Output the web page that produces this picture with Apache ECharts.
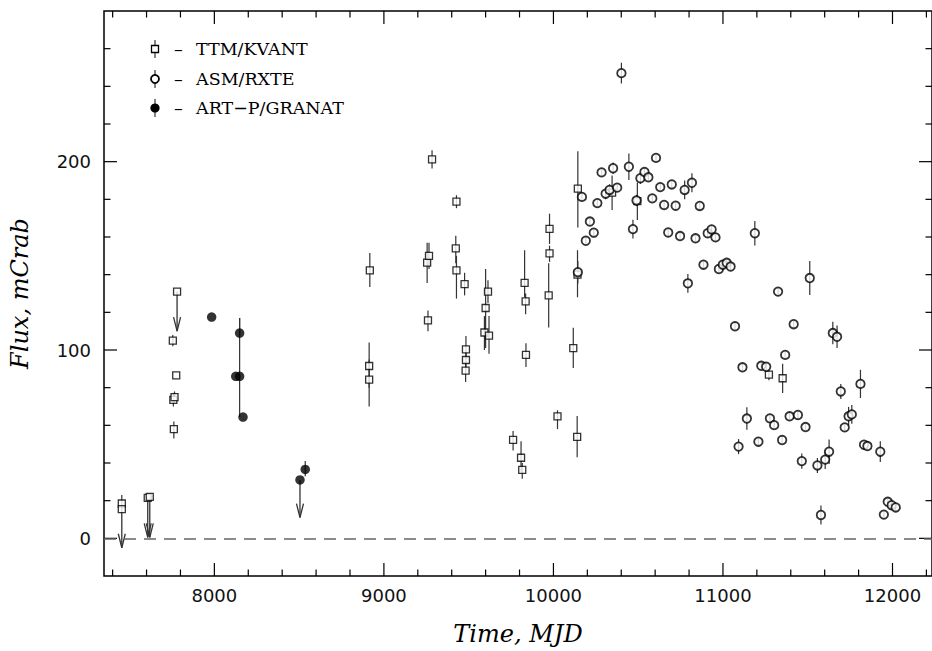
<!DOCTYPE html>
<html><head><meta charset="utf-8">
<script src="https://cdn.jsdelivr.net/npm/echarts@6/dist/echarts.min.js"></script>
<style>html,body{margin:0;padding:0;background:#fff}#c{width:932px;height:651px}</style>
</head><body><div id="c"></div>
<script>
// ---------- DATA ----------
// TTM/KVANT (open squares): MJD, flux, error-bar low, error-bar high
const ttmMJD  = [7454, 7454, 7607, 7619, 7755, 7761, 7758, 7765, 7775, 7780,
                 8913, 8913, 8917, 9255, 9266, 9260, 9284, 9424, 9428, 9428,
                 9476, 9484, 9484, 9482, 9600, 9614, 9593, 9620, 9762, 9809,
                 9816, 9830, 9836, 9838, 9972, 9977, 9977, 10024, 10117, 10140,
                 10144, 10142, 10346, 10495, 11271, 11352];
const ttmFlux = [18.5, 15.5, 21.5, 22, 105, 58, 73.5, 75, 86.5, 131,
                 91.5, 84.3, 142.3, 146.4, 150, 115.7, 201.2, 154, 142.3, 178.8,
                 135, 100.3, 94.7, 89, 122.3, 131, 109.3, 107.6, 52.3, 42.8,
                 36.3, 135.6, 125.8, 97.4, 129, 164.3, 151.3, 64.8, 101, 53.9,
                 185.7, 140, 183.6, 179, 86.9, 85];
const ttmLo   = [18.5, 15.5, 21.5, 22, 102, 53, 70, 72, 86.5, 131,
                 80, 70, 133.4, 135.6, 143, 110, 196.4, 146, 127.3, 175.3,
                 129, 96, 90, 83, 101, 125, 100, 98, 46.6, 35.4,
                 31.6, 128, 119, 91, 112, 156.3, 146.8, 58, 90.4, 43,
                 165, 128, 174.4, 169, 84, 77.2];
const ttmHi   = [23, 15.5, 22, 23, 108, 62, 77, 78, 86.5, 131,
                 104, 95, 151.5, 157, 157, 121, 206, 160.6, 150, 182.2,
                 141, 107.5, 99, 93, 143, 137, 118, 118, 57, 51.5,
                 40, 153, 130, 103.6, 146, 172.4, 155.4, 68, 111.8, 65,
                 205.5, 153, 192.6, 189, 89.5, 92.7];

// ASM/RXTE (open circles): MJD, flux, symmetric error
const asmMJD  = [10144, 10168, 10191, 10215, 10238, 10259, 10284, 10308, 10331, 10352,
                 10376, 10401, 10445, 10469, 10490, 10513, 10537, 10560, 10583, 10605,
                 10630, 10653, 10677, 10698, 10721, 10747, 10774, 10793, 10817, 10838,
                 10863, 10885, 10910, 10933, 10956, 10976, 10999, 11022, 11045, 11071,
                 11092, 11115, 11141, 11188, 11209, 11226, 11255, 11277, 11302, 11325,
                 11349, 11367, 11393, 11417, 11442, 11465, 11487, 11512, 11557, 11578,
                 11603, 11626, 11648, 11673, 11695, 11718, 11741, 11760, 11811, 11832,
                 11852, 11928, 11949, 11972, 11995, 12019];
const asmFlux = [141.3, 181.3, 158, 168.2, 162.3, 178, 194.3, 183, 185, 196.5,
                 186.2, 247, 197.3, 164.2, 179.4, 191.2, 194.5, 191.7, 180.5, 202,
                 186.5, 177, 162.4, 187.9, 176.6, 160.5, 185, 135.4, 188.8, 159.3,
                 176.5, 145.3, 162, 164, 159.8, 143, 145.3, 146.3, 144.3, 112.6,
                 48.7, 90.8, 63.6, 162, 51.3, 91.6, 91.1, 63.7, 60.1, 131,
                 52.2, 97.4, 64.8, 113.7, 65.5, 41, 59.1, 138.2, 38.7, 12.4,
                 41.8, 46, 109, 107, 78, 58.9, 64.8, 65.8, 82, 49.7,
                 49, 46, 12.6, 19.4, 17.6, 16.4];
const asmErr  = [6, 2, 2, 2, 2, 2, 2, 3, 3, 3,
                 2, 5.5, 7, 5, 3, 3, 2, 2, 2, 2,
                 2, 2, 2, 2, 2, 2, 5, 5, 5, 2,
                 2, 2, 2, 2, 2, 2, 2, 2, 2, 2,
                 4, 2, 6, 6.5, 2, 2, 2, 2, 2, 2,
                 2, 2, 2, 2, 2, 4, 2, 9, 4, 5,
                 5, 6.5, 6, 6, 4, 2, 5, 5, 7.5, 2,
                 2, 5.5, 2, 2, 2, 2];

// ART-P/GRANAT (filled circles)
const artMJD  = [7984, 8126, 8149, 8149, 8169, 8505, 8536];
const artFlux = [117.5, 86, 86, 109, 64.4, 31, 36.6];
const artLo   = [117.5, 86, 64.4, 109, 64.4, 31, 33];
const artHi   = [117.5, 86, 117, 117, 64.4, 31, 41];

// Upper limits (arrows): MJD, from flux, arrow tip flux
const ulMJD  = [7454, 7607, 7619, 7780, 8505];
const ulFrom = [18.5, 21.5, 22, 131, 31];
const ulTo   = [-5, 0.5, 0.5, 110, 11];

// Axis ticks and labels
const xMajorTicks = [8000, 9000, 10000, 11000, 12000];
const xTickLabels = ['8000', '9000', '10000', '11000', '12000'];
const xMinorTicks = [7400, 7600, 7800, 8200, 8400, 8600, 8800, 9200, 9400, 9600, 9800,
                     10200, 10400, 10600, 10800, 11200, 11400, 11600, 11800, 12200];
const yMajorTicks = [0, 100, 200];
const yTickLabels = ['0', '100', '200'];
const yMinorTicks = [20, 40, 60, 80, 120, 140, 160, 180, 220, 240, 260];

const legendLabels = ['TTM/KVANT', 'ASM/RXTE', 'ART\u2212P/GRANAT'];

// ---------- CHART ----------
const chart = echarts.init(document.getElementById('c'), null, {renderer: 'svg'});

const ttmPts = ttmMJD.map((x, i) => [x, ttmFlux[i]]);
const ttmBars = ttmMJD.map((x, i) => [x, ttmLo[i], ttmHi[i]]);
const asmPts = asmMJD.map((x, i) => [x, asmFlux[i]]);
const asmBars = asmMJD.map((x, i) => [x, asmFlux[i] - asmErr[i], asmFlux[i] + asmErr[i]]);
const artPts = artMJD.map((x, i) => [x, artFlux[i]]);
const artBars = artMJD.map((x, i) => [x, artLo[i], artHi[i]]);
const ulData = ulMJD.map((x, i) => [x, ulFrom[i], ulTo[i]]);

const barStyle = {stroke: '#333', lineWidth: 1.2};

function errBar(params, api) {
  const p1 = api.coord([api.value(0), api.value(1)]);
  const p2 = api.coord([api.value(0), api.value(2)]);
  if (Math.abs(p1[1] - p2[1]) < 0.5) return null;
  return {type: 'line', shape: {x1: p1[0], y1: p1[1], x2: p2[0], y2: p2[1]}, style: barStyle};
}

function arrow(params, api) {
  const p1 = api.coord([api.value(0), api.value(1)]);
  const p2 = api.coord([api.value(0), api.value(2)]);
  const st = {stroke: '#333', lineWidth: 1.3, fill: null};
  return {type: 'group', children: [
    {type: 'line', shape: {x1: p1[0], y1: p1[1], x2: p2[0], y2: p2[1]}, style: st},
    {type: 'polyline', shape: {points: [[p2[0] - 3.5, p2[1] - 14], [p2[0], p2[1]], [p2[0] + 3.5, p2[1] - 14]]}, style: st}
  ]};
}

function ticks(params, api) {
  const cs = params.coordSys;
  const L = cs.x, T = cs.y, R = cs.x + cs.width, B = cs.y + cs.height;
  const st = {stroke: '#000', lineWidth: 1.2};
  const ch = [];
  const ln = (x1, y1, x2, y2) => ({type: 'line', shape: {x1, y1, x2, y2}, style: st});
  xMajorTicks.forEach((v, i) => {
    const px = api.coord([v, 0])[0];
    ch.push(ln(px, B, px, B - 13), ln(px, T, px, T + 13));
    ch.push({type: 'text', style: {text: xTickLabels[i], x: px, y: B + 19, align: 'center', verticalAlign: 'middle',
      font: '18px "DejaVu Sans"', fill: '#111'}});
  });
  xMinorTicks.forEach(v => {
    const px = api.coord([v, 0])[0];
    ch.push(ln(px, B, px, B - 6.5), ln(px, T, px, T + 6.5));
  });
  yMajorTicks.forEach((v, i) => {
    const py = api.coord([8000, v])[1];
    ch.push(ln(L, py, L + 13, py), ln(R, py, R - 13, py));
    ch.push({type: 'text', style: {text: yTickLabels[i], x: L - 13, y: py, align: 'right', verticalAlign: 'middle',
      font: '18px "DejaVu Sans"', fill: '#111'}});
  });
  yMinorTicks.forEach(v => {
    const py = api.coord([8000, v])[1];
    ch.push(ln(L, py, L + 6.5, py), ln(R, py, R - 6.5, py));
  });
  return {type: 'group', children: ch};
}

const legendFont = '17.5px "DejaVu Serif"';
const legendY = [49, 79, 108];
const legendGraphic = [];
legendY.forEach((y, i) => {
  legendGraphic.push({type: 'line', shape: {x1: 155, y1: y - 9, x2: 155, y2: y + 9}, style: {stroke: '#333', lineWidth: 1.2}});
  legendGraphic.push({type: 'text', style: {text: '\u2013', x: 174, y: y, verticalAlign: 'middle', font: legendFont, fill: '#000'}});
  legendGraphic.push({type: 'text', style: {text: legendLabels[i], x: 196, y: y, verticalAlign: 'middle', font: legendFont, fill: '#000'}});
});
legendGraphic.push({type: 'rect', shape: {x: 151.5, y: legendY[0] - 3.5, width: 7, height: 7}, style: {fill: '#fff', stroke: '#000', lineWidth: 1.3}});
legendGraphic.push({type: 'circle', shape: {cx: 155, cy: legendY[1], r: 4}, style: {fill: '#fff', stroke: '#000', lineWidth: 1.8}});
legendGraphic.push({type: 'circle', shape: {cx: 155, cy: legendY[2], r: 4.6}, style: {fill: '#000'}});

chart.setOption({
  animation: false,
  backgroundColor: '#fff',
  grid: {left: 95, top: 11, width: 838, height: 579, show: true, borderColor: '#000', borderWidth: 1.5, backgroundColor: 'transparent'},
  xAxis: {type: 'value', min: 7349, max: 12233,
    name: 'Time, MJD', nameLocation: 'middle', nameGap: 46,
    nameTextStyle: {fontFamily: 'DejaVu Serif', fontStyle: 'italic', fontSize: 24, color: '#000'},
    axisLine: {show: false}, axisTick: {show: false}, axisLabel: {show: false}, splitLine: {show: false}},
  yAxis: {type: 'value', min: -20, max: 280,
    name: 'Flux, mCrab', nameLocation: 'middle', nameGap: 72,
    nameTextStyle: {fontFamily: 'DejaVu Serif', fontStyle: 'italic', fontSize: 24, color: '#000'},
    axisLine: {show: false}, axisTick: {show: false}, axisLabel: {show: false}, splitLine: {show: false}},
  graphic: legendGraphic,
  series: [
    {type: 'custom', name: 'ticks', renderItem: ticks, data: [[8000, 0]], silent: true, z: 1},
    {type: 'line', name: 'zero', data: [], z: 1,
      markLine: {silent: true, symbol: 'none', label: {show: false},
        lineStyle: {color: '#666', width: 1.5, type: [12, 8]}, data: [{yAxis: 0}]}},
    {type: 'custom', name: 'ttmErr', renderItem: errBar, data: ttmBars, encode: {x: 0, y: [1, 2]}, z: 2},
    {type: 'custom', name: 'asmErr', renderItem: errBar, data: asmBars, encode: {x: 0, y: [1, 2]}, z: 2},
    {type: 'custom', name: 'artErr', renderItem: errBar, data: artBars, encode: {x: 0, y: [1, 2]}, z: 2},
    {type: 'custom', name: 'upper limits', renderItem: arrow, data: ulData, encode: {x: 0, y: [1, 2]}, z: 2},
    {type: 'scatter', name: 'TTM/KVANT', data: ttmPts, symbol: 'rect', symbolSize: 7, z: 3,
      itemStyle: {color: '#fff', borderColor: '#000', borderWidth: 1.3}},
    {type: 'scatter', name: 'ASM/RXTE', data: asmPts, symbol: 'circle', symbolSize: 8.5, z: 3,
      itemStyle: {color: '#fff', borderColor: '#000', borderWidth: 1.8}},
    {type: 'scatter', name: 'ART-P/GRANAT', data: artPts, symbol: 'circle', symbolSize: 9.5, z: 3,
      itemStyle: {color: '#000'}}
  ]
});
</script>
</body></html>
